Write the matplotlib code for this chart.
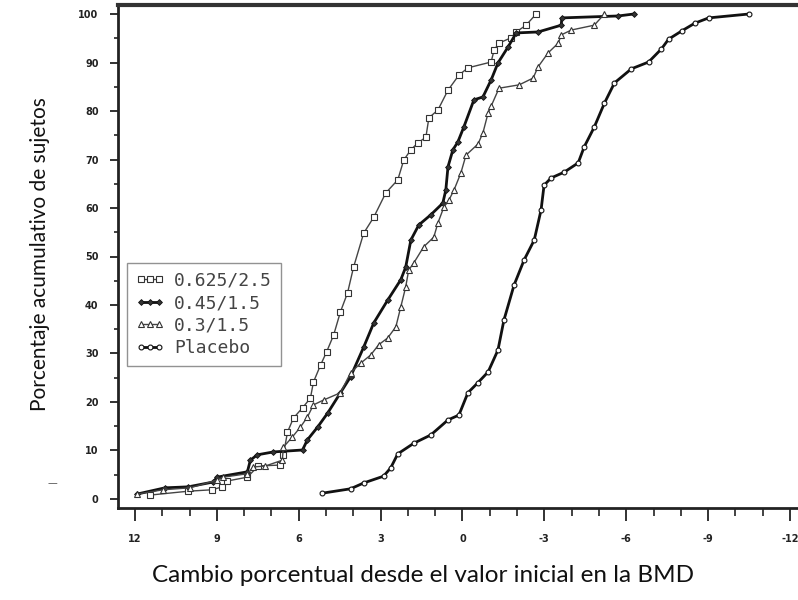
import matplotlib.pyplot as plt

# ==================================================
# DATA
# ==================================================
x_625 = [11.45, 10.05, 9.17, 8.80, 8.62, 7.88, 7.48, 6.67, 6.56, 6.41, 6.19, 5.86,
         5.57, 5.46, 5.20, 4.98, 4.72, 4.47, 4.21, 3.99, 3.62, 3.25, 2.81, 2.37,
         2.15, 1.89, 1.64, 1.34, 1.23, 0.90, 0.53, 0.13, -0.20, -1.05, -1.16,
         -1.34, -1.78, -1.97, -2.33, -2.70]
y_625 = [0.8, 1.6, 1.9, 2.5, 3.7, 4.5, 6.8, 7.0, 9.1, 13.8, 16.7, 18.8,
         20.8, 24.1, 27.6, 30.3, 33.8, 38.6, 42.5, 47.8, 54.8, 58.1, 63.1, 65.8,
         69.9, 72.0, 73.4, 74.6, 78.6, 80.2, 84.3, 87.4, 88.9, 90.1, 92.6,
         94.0, 95.1, 96.3, 97.7, 100.0]

x_45 = [11.93, 10.90, 10.05, 9.13, 8.99, 7.88, 7.77, 7.52, 6.93, 5.86, 5.68, 5.31,
        4.94, 4.47, 4.10, 3.62, 3.25, 2.74, 2.26, 2.08, 1.89, 1.60, 1.16, 0.72,
        0.61, 0.53, 0.35, 0.17, -0.05, -0.42, -0.75, -1.05, -1.30, -1.67, -1.97,
        -2.77, -3.62, -3.64, -5.71, -6.27]
y_45 = [1.0, 2.3, 2.5, 3.5, 4.5, 5.6, 8.0, 9.1, 9.7, 10.1, 12.2, 14.8,
        17.7, 21.9, 25.2, 31.3, 36.3, 41.0, 45.2, 47.8, 53.4, 56.5, 58.6, 61.0,
        63.7, 68.5, 72.0, 73.6, 76.7, 82.3, 82.9, 86.4, 89.9, 93.2, 96.1,
        96.3, 97.7, 99.2, 99.6, 100.0]

x_3 = [11.93, 10.97, 9.98, 8.99, 8.77, 7.88, 7.66, 7.22, 6.60, 6.56, 6.23, 5.94,
       5.68, 5.46, 5.09, 4.47, 4.10, 3.73, 3.36, 3.07, 2.74, 2.44, 2.26, 2.08,
       1.97, 1.78, 1.42, 1.05, 0.90, 0.68, 0.50, 0.31, 0.06, -0.13, -0.57,
       -0.75, -0.94, -1.05, -1.34, -2.08, -2.59, -2.77, -3.14, -3.51, -3.62,
       -3.99, -4.83, -5.20]
y_3 = [1.0, 1.9, 2.3, 3.9, 4.5, 5.2, 6.6, 6.8, 8.0, 10.7, 12.8, 14.8,
       16.9, 19.4, 20.4, 21.9, 26.0, 28.0, 29.7, 31.8, 33.2, 35.5, 39.6, 43.7,
       47.2, 48.7, 52.0, 54.0, 56.9, 60.2, 61.6, 63.7, 67.2, 70.9, 73.2,
       75.5, 79.6, 81.0, 84.7, 85.4, 86.8, 89.1, 92.0, 94.0, 95.7,
       96.7, 97.7, 100.0]

x_pl = [5.13, 4.10, 3.62, 2.89, 2.63, 2.37, 1.78, 1.16, 0.53, 0.13, -0.20, -0.57,
        -0.94, -1.30, -1.52, -1.89, -2.26, -2.63, -2.88, -2.99, -3.25, -3.73,
        -4.24, -4.46, -4.83, -5.20, -5.57, -6.19, -6.82, -7.29, -7.55, -8.03,
        -8.51, -9.02, -10.49]
y_pl = [1.2, 2.1, 3.3, 4.7, 6.4, 9.3, 11.5, 13.2, 16.3, 17.3, 21.9, 24.0,
        26.2, 30.7, 36.9, 44.1, 49.3, 53.4, 59.6, 64.7, 66.2, 67.4,
        69.3, 72.6, 76.7, 81.6, 85.8, 88.7, 90.1, 92.8, 94.8, 96.5,
        98.1, 99.2, 100.0]

labels = ["0.625/2.5", "0.45/1.5", "0.3/1.5", "Placebo"]
x_ticks = [12, 9, 6, 3, 0, -3, -6, -9, -12]
x_ticklabels = ["12", "9", "6", "3", "0", "-3", "-6", "-9", "-12"]
y_ticks = [0, 10, 20, 30, 40, 50, 60, 70, 80, 90, 100]

# ==================================================
# FIGURE
# ==================================================
fig = plt.figure(figsize=(7.98, 6.0), dpi=100)
ax = fig.add_axes([118 / 798, 1 - 508 / 600, 684 / 798, 503 / 600])

ax.plot(x_625, y_625, color="#444444", lw=1.0, marker="s", ms=4.5,
        mfc="white", mec="#333333", mew=0.8, label=labels[0])
ax.plot(x_45, y_45, color="#111111", lw=2.0, marker="D", ms=3,
        mfc="#333333", mec="#111111", mew=0.6, label=labels[1])
ax.plot(x_3, y_3, color="#444444", lw=1.0, marker="^", ms=4.5,
        mfc="white", mec="#333333", mew=0.8, label=labels[2])
ax.plot(x_pl, y_pl, color="#111111", lw=2.0, marker="o", ms=3.5,
        mfc="white", mec="#111111", mew=0.8, label=labels[3])

ax.set_xlim(12.62, -12.44)
ax.set_ylim(-1.86, 101.86)

ax.set_xticks(x_ticks)
ax.set_xticklabels(x_ticklabels)
ax.set_xticks([v for v in range(-12, 13) if v % 3 != 0], minor=True)
ax.set_yticks(y_ticks)
ax.set_yticks([v for v in range(5, 100, 10)], minor=True)

ax.tick_params(axis="x", which="major", length=9, width=1.3, pad=10,
               labelsize=7, color="#222222")
ax.tick_params(axis="x", which="minor", length=6, width=1.2, color="#222222")
ax.tick_params(axis="y", which="major", length=6, width=1.3, pad=8,
               labelsize=7, color="#222222")
ax.tick_params(axis="y", which="minor", length=3, width=1.2, color="#222222")
for lab in ax.get_xticklabels() + ax.get_yticklabels():
    lab.set_fontweight("bold")
    lab.set_color("#222222")

ax.spines["right"].set_visible(False)
ax.spines["top"].set_linewidth(3)
ax.spines["top"].set_color("#333333")
ax.spines["left"].set_linewidth(2)
ax.spines["left"].set_color("#222222")
ax.spines["bottom"].set_linewidth(2)
ax.spines["bottom"].set_color("#222222")

leg = ax.legend(loc="lower left", bbox_to_anchor=(0.013, 0.282), numpoints=3,
                handlelength=1.6, handletextpad=0.5, labelspacing=0.25,
                borderpad=0.5, borderaxespad=0, fancybox=False, frameon=True,
                prop={"family": "DejaVu Sans Mono", "size": 13})
leg.get_frame().set_edgecolor("#777777")
leg.get_frame().set_linewidth(1.0)
for t in leg.get_texts():
    t.set_color("#444444")

fig.text(423 / 798, 1 - 575 / 600, "Cambio porcentual desde el valor inicial en la BMD",
         ha="center", va="center", fontsize=17.5, family="Lato", color="#111111")
fig.text(40 / 798, 1 - 254 / 600, "Porcentaje acumulativo de sujetos",
         ha="center", va="center", rotation=90, fontsize=15, family="Lato",
         color="#111111")
fig.text(52 / 798, 1 - 483 / 600, "\u2014", ha="center", va="center",
         fontsize=7, color="#555555")

fig.savefig("out.png", dpi=100)
